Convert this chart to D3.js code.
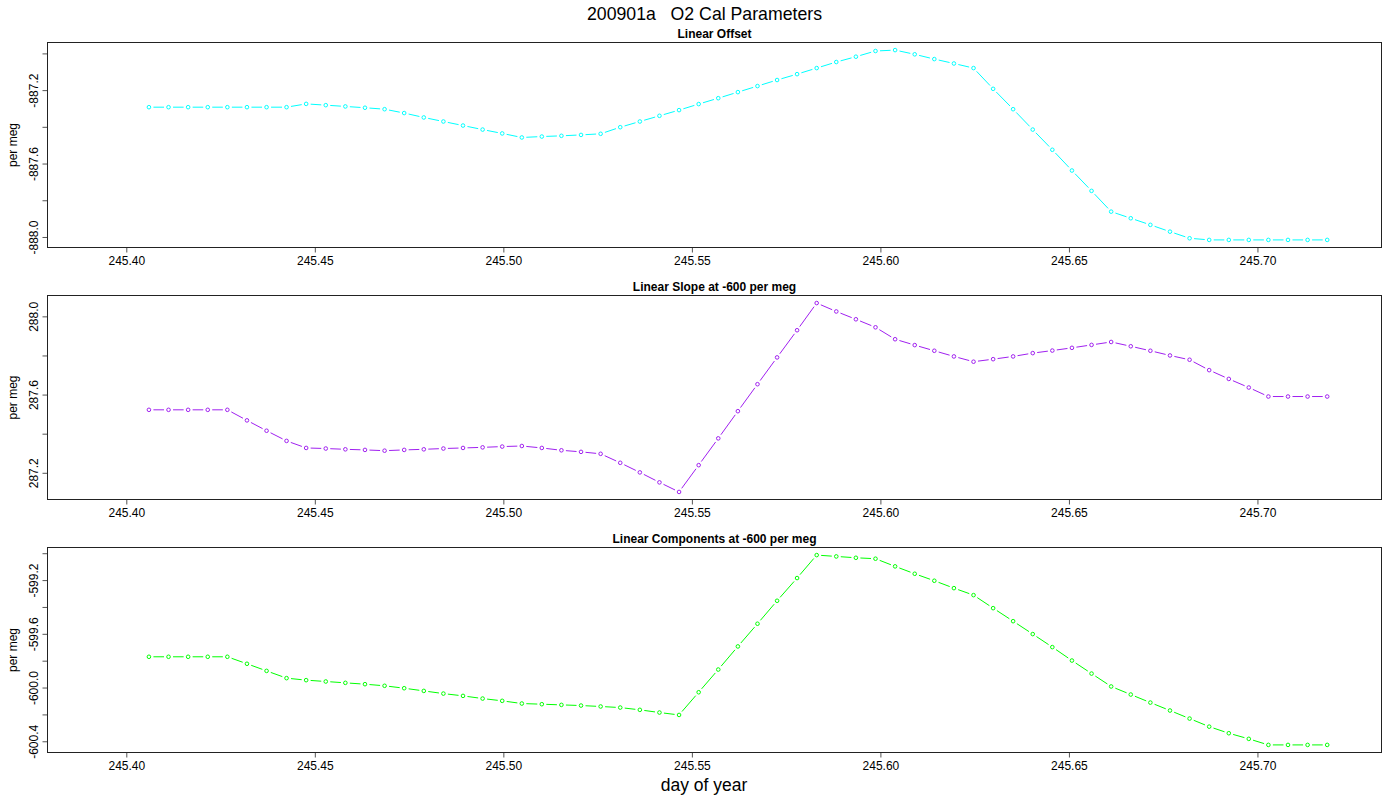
<!DOCTYPE html>
<html><head><meta charset="utf-8">
<script src="https://cdn.jsdelivr.net/npm/d3@7/dist/d3.min.js"></script>
<style>
body{margin:0;background:#fff}
text{font-family:"Liberation Sans",Arial,Helvetica,sans-serif}
</style>
</head><body>
<svg id="chart" width="1400" height="800"></svg>
<script>
// ---- data ----
const dayOfYear = [245.4060,245.4112,245.4164,245.4216,245.4268,245.4320,245.4372,245.4425,245.4477,245.4529,
245.4581,245.4633,245.4685,245.4737,245.4789,245.4841,245.4893,245.4945,245.4997,245.5049,
245.5102,245.5154,245.5206,245.5258,245.5310,245.5362,245.5414,245.5466,245.5518,245.5570,
245.5622,245.5674,245.5726,245.5779,245.5831,245.5883,245.5935,245.5987,245.6039,245.6091,
245.6143,245.6195,245.6247,245.6299,245.6352,245.6404,245.6456,245.6508,245.6560,245.6612,
245.6664,245.6716,245.6768,245.6820,245.6872,245.6924,245.6977,245.7029,245.7081,245.7133,245.7185];

const linearOffset = [-887.293,-887.293,-887.293,-887.293,-887.293,-887.293,-887.293,-887.293,-887.275,-887.282,
-887.289,-887.296,-887.304,-887.325,-887.349,-887.371,-887.393,-887.415,-887.436,-887.458,
-887.453,-887.449,-887.444,-887.438,-887.402,-887.371,-887.340,-887.309,-887.276,-887.244,
-887.211,-887.178,-887.145,-887.113,-887.080,-887.047,-887.018,-886.987,-886.982,-887.005,
-887.031,-887.055,-887.080,-887.193,-887.304,-887.415,-887.525,-887.638,-887.749,-887.862,
-887.898,-887.934,-887.971,-888.007,-888.016,-888.016,-888.016,-888.016,-888.016,-888.016,-888.016];

const linearSlope = [287.522,287.522,287.522,287.522,287.522,287.468,287.415,287.363,287.327,287.324,
287.320,287.317,287.313,287.317,287.320,287.324,287.327,287.330,287.334,287.337,
287.327,287.315,287.307,287.297,287.251,287.202,287.151,287.102,287.239,287.376,
287.515,287.653,287.790,287.929,288.068,288.025,287.985,287.944,287.883,287.853,
287.824,287.795,287.768,287.781,287.795,287.812,287.825,287.839,287.854,287.869,
287.847,287.824,287.800,287.778,287.725,287.680,287.636,287.590,287.590,287.590,287.590];

const linearComponents = [-599.771,-599.771,-599.771,-599.771,-599.771,-599.823,-599.876,-599.930,-599.945,-599.955,
-599.965,-599.975,-599.987,-600.005,-600.025,-600.045,-600.062,-600.082,-600.099,-600.119,
-600.124,-600.129,-600.134,-600.141,-600.149,-600.166,-600.186,-600.204,-600.035,-599.866,
-599.694,-599.525,-599.354,-599.185,-599.014,-599.024,-599.034,-599.041,-599.098,-599.153,
-599.205,-599.260,-599.312,-599.409,-599.506,-599.602,-599.699,-599.799,-599.896,-599.992,
-600.052,-600.112,-600.171,-600.231,-600.291,-600.340,-600.382,-600.427,-600.427,-600.427,-600.427];

const xLimits = [245.3791, 245.7329];
const xTicks = [245.40,245.45,245.50,245.55,245.60,245.65,245.70];
const xTickLabels = ["245.40","245.45","245.50","245.55","245.60","245.65","245.70"];

const offsetTicks = [-888.0,-887.8,-887.6,-887.4,-887.2,-887.0];
const offsetLabels = ["-888.0","","-887.6","","-887.2",""];
const slopeTicks = [287.2,287.4,287.6,287.8,288.0];
const slopeLabels = ["287.2","","287.6","","288.0"];
const compTicks = [-600.4,-600.2,-600.0,-599.8,-599.6,-599.4,-599.2,-599.0];
const compLabels = ["-600.4","","-600.0","","-599.6","","-599.2",""];

const panelTitles = ["Linear Offset","Linear Slope at -600 per meg","Linear Components at -600 per meg"];
const seriesColors = ["#00ffff","#a020f0","#00ff00"];
const mainTitle = "200901a   O2 Cal Parameters";
const xAxisTitle = "day of year";
const yAxisTitle = "per meg";

// ---- layout ----
const svg = d3.select("#chart");
const left = 47.5, right = 1381.5;
const panelBoxes = [[42.5,247.5],[295.5,499.5],[547.5,752.5]];
const panels = [
  {values: linearOffset, ticks: offsetTicks, labels: offsetLabels},
  {values: linearSlope, ticks: slopeTicks, labels: slopeLabels},
  {values: linearComponents, ticks: compTicks, labels: compLabels}
];

const x = d3.scaleLinear().domain(xLimits).range([left, right]);

svg.append("text").attr("x",704.5).attr("y",19.5).attr("text-anchor","middle")
  .style("font-size","17.7px").style("white-space","pre").attr("fill","#000").text(mainTitle);

panels.forEach((p, i) => {
  const [top, bottom] = panelBoxes[i];
  const ext = d3.extent(p.values);
  const pad = (ext[1]-ext[0])*0.04;
  const y = d3.scaleLinear().domain([ext[0]-pad, ext[1]+pad]).range([bottom, top]);
  const g = svg.append("g");

  // x axis
  const xa = g.append("g").attr("transform",`translate(0,${bottom})`)
    .call(d3.axisBottom(x).tickValues(xTicks).tickSize(5).tickSizeOuter(0)
      .tickFormat((d,k)=>xTickLabels[k]));
  xa.select(".domain").remove();
  xa.selectAll("line").attr("stroke","#555");
  xa.selectAll("text").attr("dy",null).attr("y",17.5).style("font-size","12px").style("font-family","Liberation Sans, Arial, sans-serif").attr("fill","#000");

  // y axis
  const ya = g.append("g").attr("transform",`translate(${left},0)`)
    .call(d3.axisLeft(y).tickValues(p.ticks).tickSize(5).tickSizeOuter(0)
      .tickFormat((d,k)=>p.labels[k]));
  ya.select(".domain").remove();
  ya.selectAll("line").attr("stroke","#555");
  ya.selectAll("text").attr("x",null).attr("dy",null)
    .attr("transform","translate(-9.5,0) rotate(-90)")
    .attr("text-anchor","middle").attr("y",0)
    .style("font-size","12px").style("font-family","Liberation Sans, Arial, sans-serif").attr("fill","#000");

  // frame
  g.append("rect").attr("x",left).attr("y",top).attr("width",right-left).attr("height",bottom-top)
    .attr("fill","none").attr("stroke","#222").attr("stroke-width",1);

  // panel title
  g.append("text").attr("x",(left+right)/2).attr("y",top-4.5).attr("text-anchor","middle")
    .style("font-size","12px").style("font-weight","bold").attr("fill","#000").text(panelTitles[i]);

  // y title
  g.append("text").attr("transform",`translate(17,${(top+bottom)/2}) rotate(-90)`)
    .attr("text-anchor","middle").style("font-size","12px").attr("fill","#000").text(yAxisTitle);

  // type "b" line: segments with gaps around points
  const pts = dayOfYear.map((d,k)=>[x(d), y(p.values[k])]);
  const gap = 4.5;
  const segs = [];
  for (let k=0;k<pts.length-1;k++){
    const [x0,y0]=pts[k],[x1,y1]=pts[k+1];
    const dx=x1-x0, dy=y1-y0, L=Math.hypot(dx,dy);
    if (L>2*gap){ const ux=dx/L, uy=dy/L;
      segs.push([x0+ux*gap,y0+uy*gap,x1-ux*gap,y1-uy*gap]); }
  }
  g.append("g").selectAll("line").data(segs).join("line")
    .attr("x1",d=>d[0]).attr("y1",d=>d[1]).attr("x2",d=>d[2]).attr("y2",d=>d[3])
    .attr("stroke",seriesColors[i]).attr("stroke-width",1);
  g.append("g").selectAll("circle").data(pts).join("circle")
    .attr("cx",d=>d[0]).attr("cy",d=>d[1]).attr("r",1.8)
    .attr("fill","none").attr("stroke",seriesColors[i]).attr("stroke-width",1);
});

svg.append("text").attr("x",704).attr("y",791).attr("text-anchor","middle")
  .style("font-size","17.5px").attr("fill","#000").text(xAxisTitle);
</script>
</body></html>
